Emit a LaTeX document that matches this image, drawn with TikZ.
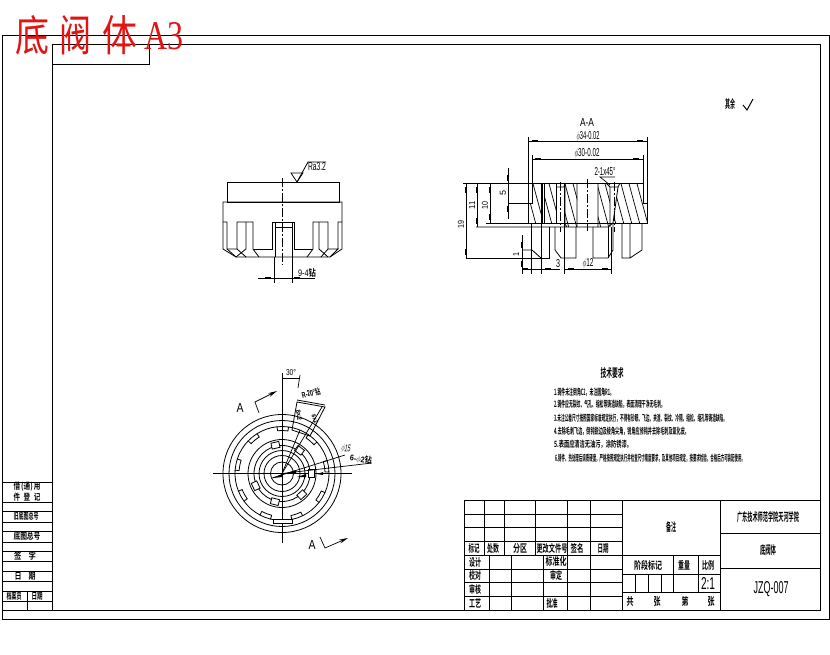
\documentclass[tikz,border=0pt]{standalone}
\usepackage{fontspec}
\usetikzlibrary{arrows.meta,calc}
\newfontfamily\cjk{Noto Sans CJK SC}[BoldFont={Noto Sans CJK SC Bold}]
\setmainfont{Liberation Sans}
\newfontfamily\titleserif{Liberation Serif}
\definecolor{redt}{RGB}{225,20,20}
\newcommand{\cnw}[5]{\node[cnlabel] at (#1,#2) {\resizebox{#3pt}{#4pt}{\cjk\bfseries #5}};}
\newcommand{\nline}[4]{\node[cnlabel,anchor=west] at (#1,#2) {\resizebox{#3pt}{7.5pt}{\cjk\bfseries #4}};}
% latin label: [rotation]{x}{y}{width}{height}{text}
\newcommand{\lat}[6][0]{\node[cnlabel,rotate=#1] at (#2,#3) {\resizebox{#4pt}{#5pt}{#6}};}
\tikzset{
 frameline/.style={line width=0.9pt,black},
 partline/.style={line width=0.8pt,black},
 hatchline/.style={line width=0.7pt,black},
 centerline/.style={line width=0.8pt,black,dash pattern=on 9pt off 2pt on 2pt off 2pt},
 dimline/.style={line width=0.7pt,black},
 cnlabel/.style={inner sep=0pt,outer sep=0pt,anchor=center},
}
\newcommand{\htick}[2]{\fill (#1-3,#2-1.3) rectangle (#1+3,#2+1.3);}
\newcommand{\vtick}[2]{\fill (#1-1.3,#2-3) rectangle (#1+1.3,#2+3);}
\newcommand{\hatchsec}[1]{\begin{scope}\clip #1;\foreach \s in {500,508,...,660}{\draw[hatchline] (\s,180) -- (\s+13.5,230);}\end{scope}}
\begin{document}
\begin{tikzpicture}[x=1pt,y=-1pt]
\useasboundingbox (0,0) rectangle (830,654);
\fill[white] (0,0) rectangle (830,654);
% frames
\draw[frameline] (2.5,35) rectangle (829,619);
\draw[frameline] (52,44) rectangle (820,610);
\draw[frameline] (52,44) -- (52,64) -- (149,64) -- (149,44);
\draw[frameline] (2.5,610) -- (52,610);
% title
\begin{scope}[text=redt]
\node[cnlabel] at (32,35) {\resizebox{34pt}{36pt}{\cjk 底}};
\node[cnlabel] at (75,35) {\resizebox{32pt}{36pt}{\cjk 阀}};
\node[cnlabel] at (120,35) {\resizebox{35pt}{36pt}{\cjk 体}};
\node[cnlabel] at (164,36.5) {\resizebox{39pt}{27pt}{\titleserif A3}};
\end{scope}
% left strip
\draw[frameline] (2.5,482) -- (52,482) (2.5,502) -- (52,502) (2.5,511) -- (52,511) (2.5,522) -- (52,522) (2.5,531) -- (52,531) (2.5,542) -- (52,542)
 (2.5,551) -- (52,551) (2.5,561) -- (52,561) (2.5,571) -- (52,571) (2.5,581) -- (52,581) (2.5,591) -- (52,591) (2.5,601) -- (52,601) (27,591) -- (27,610);
\cnw{27}{487}{27}{7.5}{借\,(通)\,用}
\cnw{27}{497}{27}{7.5}{件\;\;登\;\;记}
\cnw{26}{516.5}{25}{7.5}{旧底图总号}
\cnw{27}{536.5}{27}{7.5}{底图总号}
\cnw{25}{556}{22}{7.5}{签\quad 字}
\cnw{25}{576}{21}{7.5}{日\quad 期}
\cnw{14}{596}{15}{7.5}{档案员}
\cnw{37}{596}{11}{7.5}{日期}
% title block
\draw[frameline] (464,500) rectangle (820,610);
\draw[frameline] (464,514) -- (622,514) (464,527) -- (622,527) (464,541) -- (622,541) (464,555) -- (622,555)
 (464,569) -- (622,569) (464,582) -- (622,582) (464,596) -- (622,596);
\draw[frameline] (484,500) -- (484,555) (504,500) -- (504,555) (535,500) -- (535,555) (567,500) -- (567,610) (590,500) -- (590,610);
\draw[frameline] (489,555) -- (489,610) (511,555) -- (511,610) (543,555) -- (543,610);
\draw[frameline] (622,500) -- (622,610) (720,500) -- (720,610);
\draw[frameline] (622,555) -- (720,555) (622,574) -- (720,574) (622,592) -- (720,592);
\draw[frameline] (720,533) -- (820,533) (720,568) -- (820,568);
\draw[frameline] (635,574) -- (635,592) (648,574) -- (648,592) (661,574) -- (661,592) (673,555) -- (673,592) (698,555) -- (698,592);
\cnw{474}{548}{11}{9}{标记}\cnw{493}{548}{12}{9}{处数}\cnw{520}{548}{14}{9}{分区}\cnw{552}{548}{31}{9}{更改文件号}\cnw{577}{548}{13}{9}{签名}\cnw{603}{548}{11}{9}{日期}
\cnw{475}{562}{12}{9}{设计}\cnw{475}{575.5}{12}{9}{校对}\cnw{475}{589}{12}{9}{审核}\cnw{475}{603}{12}{9}{工艺}
\cnw{556}{561.5}{21}{9}{标准化}\cnw{556}{575.5}{12}{9}{审定}\cnw{552}{603}{11}{9}{批准}
\cnw{671}{527}{10}{10}{备注}
\cnw{648}{565}{28}{9}{阶段标记}\cnw{684}{565}{12}{9}{重量}\cnw{708}{565}{12}{9}{比例}
\node[cnlabel] at (708,583) {\resizebox{14pt}{12pt}{2:1}};
\cnw{630}{601}{7}{9}{共}\cnw{657}{601}{7}{9}{张}\cnw{685}{601}{7}{9}{第}\cnw{711}{601}{7}{9}{张}
\cnw{768}{517}{62}{10}{广东技术师范学院天河学院}
\cnw{768}{550}{16}{10}{底阀体}
\node[cnlabel] at (771,589.5) {\resizebox{35pt}{12pt}{JZQ-007}};
% roughness mark upper right
\cnw{730}{104}{10}{10}{其余}
\draw[line width=1pt] (743,105) -- (747,110) -- (753,99);
% ===== front view =====
\draw[partline] (227,182) rectangle (339,202);
\draw[partline] (223,202) -- (223,249) -- (236,257) -- (330,257) -- (342,249) -- (342,202) -- cycle;
\draw[partline] (223,222) -- (227,222) -- (227,249) -- (236,257);
\draw[partline] (227,249) -- (237,249) -- (246,257);
\draw[partline] (237,249) -- (237,222) -- (253,222) -- (253,249) -- (259,257);
\draw[partline] (246,222) -- (246,249) -- (236,257);
\draw[partline] (253,249) -- (272,249) -- (272,222) -- (294,222) -- (294,249) -- (313,249);
\draw[partline] (275,222) -- (275,257) (292,222) -- (292,257) (275,227) -- (292,227);
\draw[partline] (313,249) -- (313,222) -- (328,222) -- (328,249) -- (321,257);
\draw[partline] (313,249) -- (307,257) (319,222) -- (319,249) -- (328,257);
\draw[partline] (328,249) -- (338,249) -- (330,257) (338,249) -- (338,222) -- (342,222);
\draw[centerline] (282,178) -- (282,265);
\draw[partline] (291,173) -- (303,173) -- (297,182) -- cycle;
\draw[partline] (297,182) -- (308,162) -- (326,162);
\lat{317}{167}{18}{8}{Ra3.2}
\draw[dimline] (274,257) -- (274,283) (292,257) -- (292,283);
\draw[dimline] (258,278) -- (315,278);
\htick{268}{278}\htick{297}{278}
\node[cnlabel] at (307,273) {\resizebox{18pt}{8pt}{9-4\cjk\bfseries 钻}};
% ===== section A-A =====
\lat{587}{122}{14}{8}{A-A}
\hatchsec{(532,183) -- (542,183) -- (542,223) -- (528,223) -- (528,203) -- (532,203) -- cycle}
\hatchsec{(544,183) -- (556,183) -- (556,223) -- (544,223) -- cycle}
\hatchsec{(565,183) -- (577,183) -- (577,227) -- (568,227) -- (565,223) -- cycle}
\hatchsec{(598,183) -- (606,183) -- (610,187) -- (610,227) -- (598,227) -- cycle}
\hatchsec{(620,183) -- (643,183) -- (643,203) -- (647,203) -- (647,223) -- (613,223) -- (618,187) -- cycle}
\draw[partline] (463,183) -- (643,183) -- (643,203) -- (647,203) -- (647,223) -- (486,223);
\draw[partline] (528,223) -- (528,203) -- (532,203) -- (532,183);
\draw[partline] (476,227) -- (567,227) (564,223) -- (567,227) -- (608,227) -- (613,223);
\draw[partline] (542,183) -- (542,223) (544,183) -- (544,223) (556,183) -- (556,223);
\draw[partline] (556,187) -- (564,187) -- (565,183) (565,183) -- (565,223);
\draw[partline] (577,183) -- (577,227) (598,183) -- (598,227) (606,183) -- (610,187) -- (618,187) -- (620,183);
\draw[partline] (610,187) -- (610,227) (618,187) -- (613,223);
% legs
\draw[partline] (466,258) -- (549,258) -- (549,227);
\draw[partline] (522,250) -- (532,250) -- (541,258);
\draw[partline] (555,227) -- (555,250) -- (561,258) -- (576,258) -- (576,227);
\draw[partline] (593,227) -- (593,258) -- (608,258) -- (613,250) -- (613,223);
\draw[partline] (608,227) -- (608,258);
\draw[partline] (622,223) -- (622,258) -- (630,258) -- (642,250) -- (642,223) (630,223) -- (630,258);
\draw[centerline] (587,179) -- (587,231);
\draw[centerline] (560,182) -- (560,232);
\draw[centerline] (614,182) -- (614,232);
% dims
\draw[dimline] (528,203) -- (528,137) (647,203) -- (647,137);
\draw[dimline] (532,183) -- (532,155) (643,183) -- (643,155);
\draw[dimline] (528,141) -- (647,141);\htick{535}{141}\htick{640}{141}
\draw[dimline] (532,159) -- (643,159);\htick{538}{159}\htick{636}{159}
\lat{588}{136.5}{23}{8}{$\phi$34-0.02}
\lat{587}{154}{25}{8}{$\phi$30-0.02}
\lat{605}{172}{21}{8}{2-1x45\textdegree}
\draw[dimline] (615,177) -- (600,177) -- (610,185);
\draw[dimline] (466,183) -- (466,258) (477,183) -- (477,227) (490,183) -- (490,223);
\vtick{466}{190}\vtick{466}{252}\vtick{477}{190}\vtick{477}{221}\vtick{490}{190}\vtick{490}{217}
\draw[dimline] (508,168) -- (508,219);\vtick{508}{178}\vtick{508}{209}
\draw[dimline] (508,203) -- (528,203);
\lat[90]{461}{224}{8}{6}{19}
\lat[90]{472}{205}{8}{6}{11}
\lat[90]{485}{205}{8}{6}{10}
\lat[90]{503}{193}{5}{6}{5}
\draw[dimline] (522,235) -- (522,274);\vtick{522}{245}\vtick{522}{264}
\lat[90]{516}{254}{4}{6}{1}
\draw[dimline] (531,223) -- (531,274) (541,183) -- (541,274);
\draw[dimline] (522,269) -- (560,269);\htick{525}{269}\htick{548}{269}
\lat{558}{264}{4}{8}{3}
\draw[dimline] (564,183) -- (564,274) (611,227) -- (611,274);
\draw[dimline] (564,269) -- (611,269);\htick{571}{269}\htick{605}{269}
\lat{588}{264}{11}{8}{$\phi$12}
% ===== plan view =====
\coordinate (c) at (282,473.5);
\foreach \r in {59,53,34,28,23,18,11.5}{\draw[partline] (c) circle[radius=\r];}
\draw[partline] (213,473.5) -- (352,473.5);
\draw[partline] (282,373) -- (282,543);
% outer slots and arcs between them
\foreach \a in {71,31,-9,-49,-89,-129,-169,151,111}{
 \draw[partline] ($(c)+(\a-7:43)$) arc[start angle=\a-7,end angle=\a+7,radius=43] -- ($(c)+(\a+7:47)$) arc[start angle=\a+7,end angle=\a-7,radius=47] -- cycle;
 \draw[partline] ($(c)+(\a+7:47)$) arc[start angle=\a+7,end angle=\a+33,radius=47];
}
% inner slots
\foreach \a in {104,155,257,-53,0,47}{
 \begin{scope}[shift={(c)},rotate=-\a]
 \filldraw[partline,fill=white] (26,-4) rectangle (32,4);
 \end{scope}}
\draw[partline,fill=white] (273,519) rectangle (292,523);
% radial dims
\draw[dimline] (c) -- (300,430);
\draw[dimline] (c) -- (322,407);
\draw[partline] (292,430) -- (297,402) -- (325,407) -- (310,436) -- cycle;
\draw[partline] (297,400) -- (325,405);
\node[cnlabel,rotate=14] at (311,393) {\resizebox{19pt}{7pt}{\textbf{R-20\textdegree}\cjk\bfseries 钻}};
\node[cnlabel,rotate=-80] at (299,415) {\resizebox{10pt}{4.5pt}{\textbf{8x2}}};
\node[cnlabel,rotate=-65] at (315,419) {\resizebox{9pt}{4pt}{\textbf{8x2}}};
\draw[dimline] (300,375) -- (298,388);
\draw[dimline] (282,378) -- (300,378);
\lat{291}{373}{10}{6}{30\textdegree}
\draw[dimline] (272,478) -- (345,455);
\draw[dimline] (c) -- (372,463);
\fill (273,478) -- (282,474) -- (282,477) -- cycle;
\fill (287,473) -- (296,470) -- (296,473) -- cycle;
\fill (297,477) -- (306,474) -- (306,477) -- cycle;
\fill (317,474) -- (323,472) -- (323,475) -- cycle;
\lat[-12]{346}{449}{9}{7}{$\phi$15}
\node[cnlabel,rotate=-8] at (361,459.5) {\resizebox{22pt}{7pt}{\textbf{6-$\phi$2}\cjk\bfseries 钻}};
% A marks
\lat{240}{408}{7}{9}{A}
\lat{312}{545}{7}{9}{A}
\draw[dimline,-{Stealth[length=9pt,width=4pt]}] (259,413) -- (255,402) -- (277,391);
\draw[dimline,-{Stealth[length=9pt,width=4pt]}] (320,537) -- (325,548) -- (348,538);
% technical requirements
\cnw{612}{373}{23}{10}{技术要求}
\nline{554}{392}{60}{1.铸件未注倒角C2，未注圆角R1。}
\nline{554}{404.5}{111}{2.铸件应无裂纹、气孔、缩松等铸造缺陷，表面清理干净无毛刺。}
\nline{554}{418}{173}{3.未注公差尺寸按照国家标准规定执行，不得有砂眼、飞边、夹渣、裂纹、冷隔、缩松、缩孔等铸造缺陷。}
\nline{554}{431}{135}{4.去除毛刺飞边，倒钝锐边及棱角尖角，锐角应修钝并去除毛刺及氧化皮。}
\nline{554}{444}{78}{5.表面应清洁无油污，涂防锈漆。}
\nline{555}{458}{190}{6.铸件、热处理后调质硬度，严格按照规定执行并检查尺寸精度要求，及其他项目规定，按要求检验，合格后方可装配使用。}
\end{tikzpicture}
\end{document}
